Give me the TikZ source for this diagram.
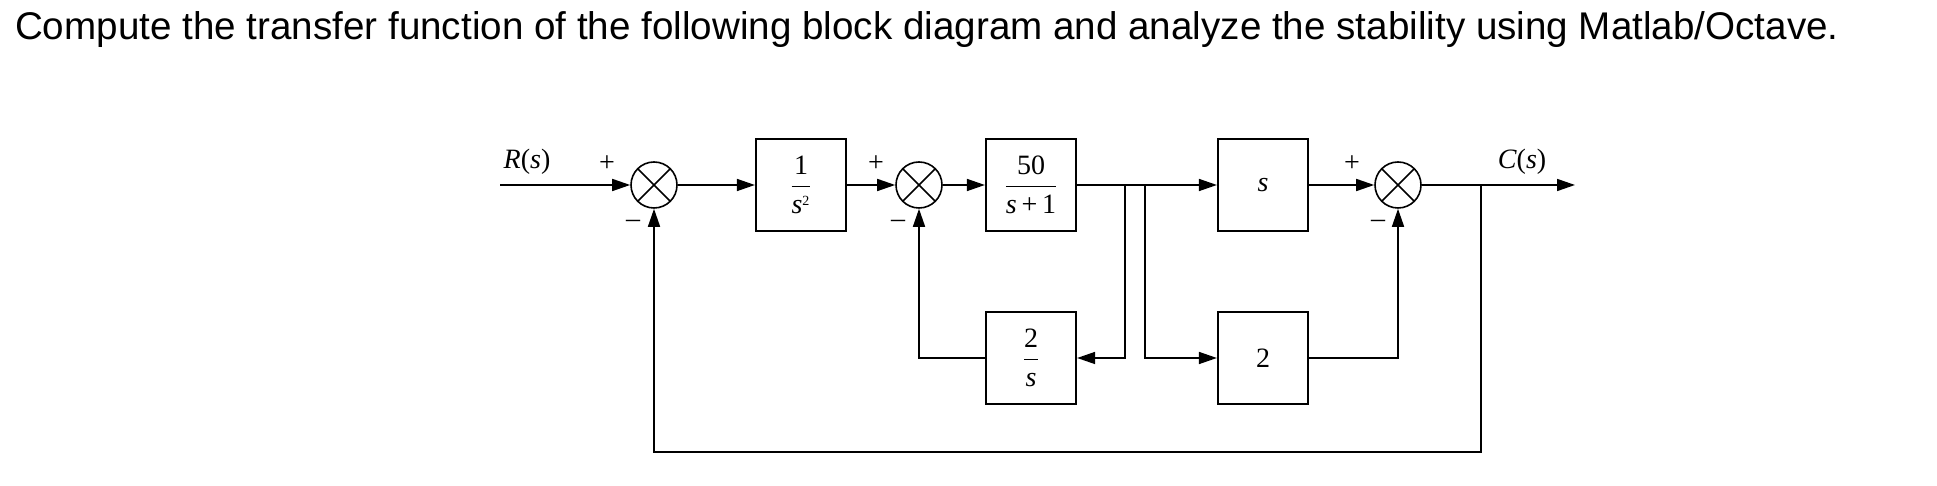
\documentclass[tikz,border=0pt]{standalone}
\usepackage{fontspec}
\setmainfont{Liberation Serif}
\newfontfamily\titlefont{Liberation Sans}
\usetikzlibrary{arrows.meta}
\newcommand{\vs}{\mbox{\itshape s}}
\newcommand{\vn}[1]{\mbox{#1}}
\begin{document}
\begin{tikzpicture}[x=0.5pt,y=0.5pt,
  blk/.style={draw,line width=1.1pt,minimum width=45pt,minimum height=46pt,inner sep=0pt,font=\fontsize{14}{16}\selectfont},
  sum/.style={draw,circle,line width=0.8pt,minimum size=23pt,inner sep=0pt,path picture={\draw[line width=0.8pt] (path picture bounding box.north west)--(path picture bounding box.south east) (path picture bounding box.north east)--(path picture bounding box.south west);}},
  sig/.style={line width=0.8pt},
  arr/.style={sig,-{Triangle[length=9pt,width=6pt]}},
  lbl/.style={font=\fontsize{14}{16}\selectfont}]
\useasboundingbox (0,0) rectangle (1937,486);
\node[anchor=west,font=\titlefont\fontsize{19.3}{22}\selectfont] (title) at (8,456) {Compute the transfer function of the following block diagram and analyze the stability using Matlab/Octave.};
\coordinate (in) at (500,301);
\node[sum] (s1) at (654,301) {};
\node[blk] (g1) at (801,301) {$\displaystyle\frac{\vn{1}}{\vs^{\vn{\scriptsize 2}}}$};
\node[sum] (s2) at (919,301) {};
\node[blk] (g2) at (1031,301) {$\displaystyle\frac{\vn{50}}{\vs\,\vn{+}\,\vn{1}}$};
\node[blk] (g3) at (1263,301) {\vs};
\node[sum] (s3) at (1398,301) {};
\node[blk] (h1) at (1031,128) {$\displaystyle\frac{\vn{2}}{\vs}$};
\node[blk] (h2) at (1263,128) {2};
\coordinate (out) at (1575,301);
\coordinate (b1) at (1125,301);
\coordinate (b2) at (1145,301);
\coordinate (tap) at (1481,301);
\draw[arr] (in) -- (s1);
\draw[arr] (s1) -- (g1);
\draw[arr] (g1) -- (s2);
\draw[arr] (s2) -- (g2);
\draw[arr] (g2) -- (g3);
\draw[arr] (g3) -- (s3);
\draw[arr] (s3) -- (out);
\draw[arr] (b1) |- (h1);
\draw[arr] (b2) |- (h2);
\draw[arr] (h1) -| (s2);
\draw[arr] (h2) -| (s3);
\draw[arr] (tap) |- (654,34) -- (s1);
\node[lbl] (r) at (527,324) {\textit{R}(\textit{s})};
\node[lbl] (c) at (1522,324) {\textit{C}(\textit{s})};
\foreach \n/\x in {p1/607,p2/876,p3/1352}{\node[lbl] (\n) at (\x,322) {+};}
\foreach \n/\x in {m1/633,m2/898,m3/1378}{\node[lbl] (\n) at (\x,262) {–};}
\end{tikzpicture}
\end{document}
